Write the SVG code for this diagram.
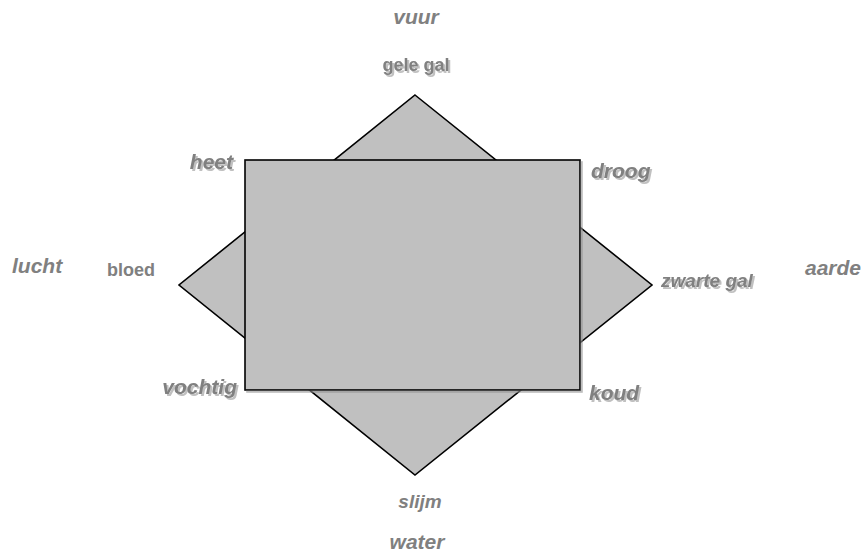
<svg xmlns="http://www.w3.org/2000/svg" width="866" height="555" viewBox="0 0 866 555">
<style>
text{font-family:"Liberation Sans",Arial,sans-serif;font-weight:bold;fill:#808080}
.big{font-size:21px;font-style:italic}
.sm{font-size:18px}
.smi{font-size:19px;font-style:italic}
.sh{filter:url(#ts)}
.shape{fill:#c0c0c0;stroke:#000;stroke-width:1.6}
</style>
<defs>
<filter id="ds" x="-5%" y="-5%" width="115%" height="115%">
<feOffset dx="2" dy="2" in="SourceAlpha" result="o"/>
<feFlood flood-color="#909090" flood-opacity="0.6"/>
<feComposite in2="o" operator="in"/>
<feMerge><feMergeNode/><feMergeNode in="SourceGraphic"/></feMerge>
</filter>
<filter id="ts" x="-10%" y="-20%" width="130%" height="150%">
<feOffset dx="2" dy="2" in="SourceAlpha" result="o"/>
<feGaussianBlur in="o" stdDeviation="0.6" result="b"/>
<feFlood flood-color="#b0b0b0" flood-opacity="0.8"/>
<feComposite in2="b" operator="in"/>
<feMerge><feMergeNode/><feMergeNode in="SourceGraphic"/></feMerge>
</filter>
</defs>
<g id="diamond"><polygon class="shape" points="415,95 652,285 415,475 179,285"/></g>
<g id="square"><rect class="shape" x="245" y="160" width="335" height="230" filter="url(#ds)"/></g>
<g id="labels">
<text class="big" x="416" y="24" text-anchor="middle">vuur</text>
<text class="sm sh" x="416" y="71" text-anchor="middle">gele gal</text>
<text class="big sh" x="233" y="169" text-anchor="end">heet</text>
<text class="big sh" x="591" y="178">droog</text>
<text class="big" x="12" y="273">lucht</text>
<text class="sm" x="107" y="276">bloed</text>
<text class="smi sh" x="661" y="287">zwarte gal</text>
<text class="big" x="805" y="275">aarde</text>
<text class="big sh" x="237" y="394" text-anchor="end">vochtig</text>
<text class="big sh" x="589" y="400">koud</text>
<text class="smi" x="420" y="508" text-anchor="middle">slijm</text>
<text class="big" x="417" y="549" text-anchor="middle">water</text>
</g>
</svg>
